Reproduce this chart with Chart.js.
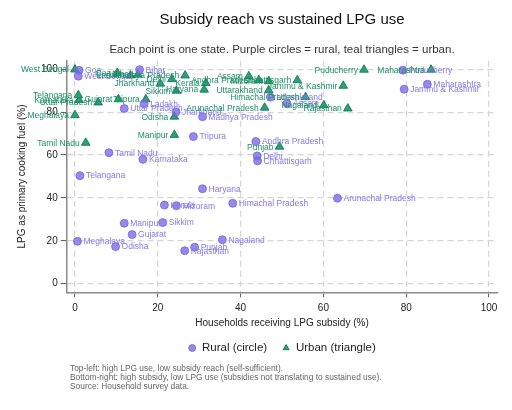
<!DOCTYPE html>
<html>
<head>
<meta charset="utf-8">
<script src="https://cdn.jsdelivr.net/npm/chart.js@4"></script>
<style>
  body { margin: 0; background: #fff; }
  #wrap { width: 512px; height: 410px; }
</style>
</head>
<body>
<div id="wrap"><canvas id="myChart" width="512" height="410"></canvas></div>
<script>
let ruralStates = ['Goa', 'West Bengal', 'Bihar', 'Uttar Pradesh', 'Ladakh', 'Jharkhand', 'Madhya Pradesh', 'Tripura',
    'Tamil Nadu', 'Karnataka', 'Telangana', 'Haryana', 'Kerala', 'Mizoram', 'Himachal Pradesh', 'Manipur',
    'Sikkim', 'Gujarat', 'Meghalaya', 'Odisha', 'Punjab', 'Rajasthan', 'Nagaland', 'Andhra Pradesh',
    'Delhi', 'Chhattisgarh', 'Arunachal Pradesh', 'Uttarakhand', 'Assam', 'Puducherry', 'Maharashtra', 'Jammu & Kashmir'];
let ruralSubsidy = [1.0, 0.8, 15.6, 11.9, 16.7, 24.4, 30.8, 28.6,
    8.2, 16.4, 1.2, 30.8, 21.6, 24.5, 38.1, 11.9,
    21.2, 13.8, 0.6, 9.8, 28.9, 26.5, 35.6, 43.7,
    44.0, 44.1, 63.4, 47.2, 51.2, 79.2, 85.1, 79.5];
let ruralLpg = [99.5, 96.8, 99.8, 81.7, 83.9, 80.1, 77.9, 68.6,
    61.1, 58.0, 50.4, 44.3, 36.7, 36.4, 37.5, 28.2,
    28.5, 22.9, 19.8, 17.3, 17.0, 15.4, 20.5, 66.3,
    59.6, 57.3, 39.9, 87.0, 84.0, 99.6, 93.0, 90.7];

let urbanStates = ['West Bengal', 'Karnataka', 'Telangana', 'Uttar Pradesh', 'Gujarat', 'Tripura', 'Meghalaya', 'Tamil Nadu',
    'Manipur', 'Odisha', 'Arunachal Pradesh', 'Jharkhand', 'Delhi', 'Sikkim', 'Haryana', 'Kerala',
    'Andhra Pradesh', 'Madhya Pradesh', 'Assam', 'Chhattisgarh', 'Mizoram', 'Uttarakhand', 'Himachal Pradesh', 'Jammu & Kashmir',
    'Nagaland', 'Rajasthan', 'Puducherry', 'Maharashtra', 'Punjab', 'Goa', 'Ladakh', 'Bihar'];
let urbanSubsidy = [0.0, 1.0, 0.8, 5.6, 10.5, 17.1, 0.0, 2.6,
    24.0, 24.0, 45.8, 20.6, 23.4, 24.5, 31.2, 31.6,
    44.4, 26.6, 42.0, 53.7, 46.8, 46.8, 55.7, 64.8,
    60.1, 65.9, 69.8, 86.0, 49.4, 10.2, 13.4, 15.2];
let urbanLpg = [99.9, 85.6, 87.9, 84.5, 86.0, 86.0, 78.6, 65.7,
    69.4, 77.9, 82.1, 93.3, 95.4, 90.0, 90.5, 93.6,
    94.9, 97.1, 96.8, 94.9, 94.4, 90.2, 87.0, 92.3,
    83.2, 81.7, 99.8, 99.8, 63.9, 98.3, 97.1, 97.5];

let xTicks = [0, 20, 40, 60, 80, 100];
let yTicks = [0, 20, 40, 60, 80, 100];

let footNotes = [
    'Top-left: high LPG use, low subsidy reach (self-sufficient).',
    'Bottom-right: high subsidy, low LPG use (subsidies not translating to sustained use).',
    'Source: Household survey data.'
];

const fontFamily = '"Liberation Sans", Arial, sans-serif';
Chart.defaults.font.family = fontFamily;
Chart.defaults.color = '#222';

// state names next to each marker: rural to the right, urban to the left
const pointLabels = {
    id: 'pointLabels',
    afterDatasetsDraw(chart) {
        const ctx = chart.ctx;
        ctx.save();
        ctx.font = '8.5px ' + fontFamily;
        ctx.textBaseline = 'middle';
        chart.data.datasets.forEach((ds, di) => {
            const meta = chart.getDatasetMeta(di);
            meta.data.forEach((pt, i) => {
                if (di === 0) {
                    ctx.fillStyle = '#8679e8';
                    ctx.textAlign = 'left';
                    ctx.fillText(ds.names[i], pt.x + 6, pt.y + 0.5);
                } else {
                    ctx.fillStyle = '#1d8f66';
                    ctx.textAlign = 'right';
                    ctx.fillText(ds.names[i], pt.x - 6, pt.y + 0.5);
                }
            });
        });
        ctx.restore();
    }
};

const footer = {
    id: 'footer',
    afterDraw(chart) {
        const ctx = chart.ctx;
        ctx.save();
        ctx.font = '8.4px ' + fontFamily;
        ctx.fillStyle = '#666';
        ctx.textAlign = 'left';
        ctx.textBaseline = 'middle';
        footNotes.forEach((t, i) => ctx.fillText(t, 70, 369 + i * 8.6));
        ctx.restore();
    }
};

let ctx = document.getElementById('myChart').getContext('2d');

let chart = new Chart(ctx, {
    type: 'scatter',
    data: {
        datasets: [{
            label: 'Rural (circle)',
            names: ruralStates,
            data: ruralSubsidy.map((x, i) => ({ x: x, y: ruralLpg[i] })),
            pointStyle: 'circle',
            pointRadius: 4,
            backgroundColor: 'rgba(123, 108, 230, 0.8)',
            borderColor: 'rgba(110, 95, 220, 0.9)',
            borderWidth: 0.8
        }, {
            label: 'Urban (triangle)',
            names: urbanStates,
            data: urbanSubsidy.map((x, i) => ({ x: x, y: urbanLpg[i] })),
            pointStyle: 'triangle',
            pointRadius: 5,
            backgroundColor: '#27a379',
            borderColor: '#146b4f',
            borderWidth: 0.8
        }]
    },
    options: {
        responsive: false,
        animation: false,
        layout: { padding: { left: 0, right: 14.7, top: 0, bottom: 46.25 } },
        scales: {
            x: {
                type: 'linear',
                min: -2,
                max: 102,
                afterBuildTicks: axis => { axis.ticks = xTicks.map(v => ({ value: v })); },
                ticks: { font: { size: 10 }, padding: 4.7, color: '#222' },
                grid: { color: '#d6d6d6', lineWidth: 1.2, tickLength: 5, tickColor: '#555', tickWidth: 1 },
                border: { display: true, color: '#8a8a8a', width: 1.5, dash: [6, 4] },
                title: { display: true, text: 'Households receiving LPG subsidy (%)', font: { size: 10 }, padding: { top: -1.2, bottom: -2.25 }, color: '#222' }
            },
            y: {
                min: -4,
                max: 104,
                afterBuildTicks: axis => { axis.ticks = yTicks.map(v => ({ value: v })); },
                afterFit: axis => { axis.width = 66.7; },
                ticks: { font: { size: 10 }, padding: 3, color: '#222' },
                grid: { color: '#d6d6d6', lineWidth: 1.2, tickLength: 6, tickColor: '#555', tickWidth: 1 },
                border: { display: true, color: '#8a8a8a', width: 1.5, dash: [6, 4] },
                title: { display: true, text: 'LPG as primary cooking fuel (%)', font: { size: 10 }, padding: { top: 16, bottom: 0 }, color: '#222' }
            }
        },
        plugins: {
            title: {
                display: true,
                text: 'Subsidy reach vs sustained LPG use',
                fullSize: false,
                color: '#111',
                font: { size: 15, weight: 'normal' },
                padding: { top: 11, bottom: 10 }
            },
            subtitle: {
                display: true,
                text: 'Each point is one state. Purple circles = rural, teal triangles = urban.',
                fullSize: false,
                color: '#333',
                font: { size: 11.5 },
                padding: { top: 4.1, bottom: 3.8 }
            },
            legend: {
                position: 'bottom',
                fullSize: false,
                labels: { usePointStyle: true, boxWidth: 8, boxHeight: 5, padding: 15, color: '#222', font: { size: 11.5 } }
            },
            tooltip: { enabled: false }
        }
    },
    plugins: [pointLabels, footer]
});
</script>
</body>
</html>
